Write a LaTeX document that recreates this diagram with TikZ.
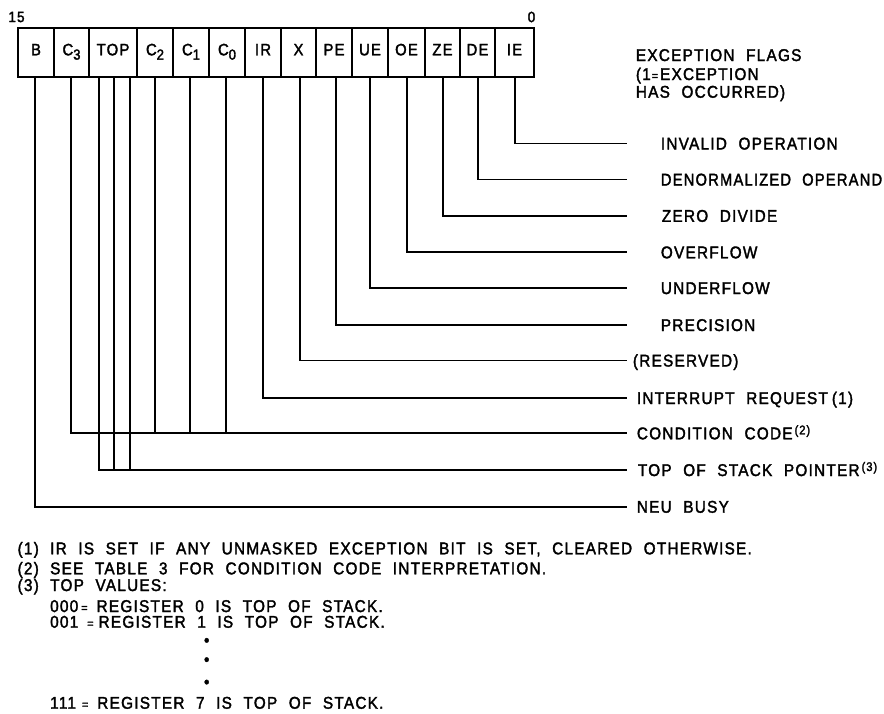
\documentclass[tikz,border=0pt]{standalone}
\usepackage{fontspec}
\setmainfont{Liberation Sans}[FakeStretch=0.9, LetterSpace=7.5, WordSpace=2.1, FakeBold=2]
\newcommand\subdig[1]{\raisebox{-4.3pt}{\fontsize{14.5}{14.5}\selectfont #1}}
\newcommand\supnote[1]{\hspace{2pt}\raisebox{5pt}{\fontsize{12.5}{12.5}\selectfont (#1)}}
\newcommand\smeq{{\fontsize{12}{12}\selectfont =}}
\begin{document}
\begin{tikzpicture}[x=1pt,y=-1pt,line width=1.8pt,
  cell/.style={draw,rectangle,inner sep=0pt,minimum height=49pt,text height=12pt,text depth=7pt,font=\fontsize{16.5}{19}\selectfont},
  lab/.style={anchor=west,inner sep=0pt,text height=12pt,text depth=0pt,font=\fontsize{17}{20}\selectfont},
  note/.style={anchor=west,inner sep=0pt,text height=12pt,text depth=0pt,font=\fontsize{17}{20}\selectfont},
  bitno/.style={inner sep=0pt,font=\fontsize{15}{17}\selectfont},
  wire/.style={line width=1.8pt}]
\useasboundingbox (0,0) rectangle (884,713);
% register cells
\node[cell,minimum width=36pt] (cB)   at (36,52.8)    {B};
\node[cell,minimum width=35pt] (cC3)  at (71.5,52.8)  {C\subdig{3}};
\node[cell,minimum width=48pt] (cTOP) at (113,52.8)   {TOP};
\node[cell,minimum width=36pt] (cC2)  at (155,52.8)   {C\subdig{2}};
\node[cell,minimum width=36pt] (cC1)  at (191,52.8)   {C\subdig{1}};
\node[cell,minimum width=36pt] (cC0)  at (227,52.8)   {C\subdig{0}};
\node[cell,minimum width=36pt] (cIR)  at (263,52.8)   {IR};
\node[cell,minimum width=35pt] (cX)   at (298.5,52.8) {X};
\node[cell,minimum width=36pt] (cPE)  at (334,52.8)   {PE};
\node[cell,minimum width=36pt] (cUE)  at (370,52.8)   {UE};
\node[cell,minimum width=37pt] (cOE)  at (406.5,52.8) {OE};
\node[cell,minimum width=35pt] (cZE)  at (442.5,52.8) {ZE};
\node[cell,minimum width=35pt] (cDE)  at (477.5,52.8) {DE};
\node[cell,minimum width=39pt] (cIE)  at (514.5,52.8) {IE};
\node[bitno] (n15) at (16.5,17) {15};
\node[bitno] (n0)  at (531.5,17) {0};
% exception flag heading
\node[lab] (hd1) at (635,55) {EXCEPTION FLAGS};
\node[lab] (hd2) at (635,74) {(1\hspace{1pt}\smeq\hspace{2pt}EXCEPTION};
\node[lab] (hd3) at (635,91.7) {HAS OCCURRED)};
% wire ends
\coordinate (eIE)  at (627,143.5);
\coordinate (eDE)  at (627,179.5);
\coordinate (eZE)  at (627,215.8);
\coordinate (eOE)  at (627,252.3);
\coordinate (eUE)  at (627,288);
\coordinate (ePE)  at (627,325);
\coordinate (eX)   at (627,360.5);
\coordinate (eIR)  at (627,398);
\coordinate (eCC)  at (627,433.3);
\coordinate (eTOP) at (627,470);
\coordinate (eB)   at (627,506.7);
% labels
\node[lab] (lIE)  at (660,143.5) {INVALID OPERATION};
\node[lab] (lDE)  at (660,179.5) {\scalebox{0.96}[1]{DENORMALIZED OPERAND}};
\node[lab] (lZE)  at (661,215.8) {ZERO DIVIDE};
\node[lab] (lOE)  at (660,252.3) {OVERFLOW};
\node[lab] (lUE)  at (660,288)   {UNDERFLOW};
\node[lab] (lPE)  at (660,325)   {PRECISION};
\node[lab] (lX)   at (632,360.5) {(RESERVED)};
\node[lab] (lIR)  at (636,398)   {INTERRUPT REQUEST\hspace{4pt}(1)};
\node[lab] (lCC)  at (636,433.3) {CONDITION CODE\supnote{2}};
\node[lab] (lTOP) at (637,470)   {TOP OF STACK POINTER\supnote{3}};
\node[lab] (lB)   at (636,506.7) {NEU BUSY};
% wires
\draw[wire] ([xshift=0.5pt]cIE.south) |- (eIE);
\draw[wire] ([xshift=0.5pt]cDE.south) |- (eDE);
\draw[wire] ([xshift=0.5pt]cZE.south) |- (eZE);
\draw[wire] ([xshift=0.5pt]cOE.south) |- (eOE);
\draw[wire] (cUE.south) |- (eUE);
\draw[wire] ([xshift=2pt]cPE.south) |- (ePE);
\draw[wire] ([xshift=1.5pt]cX.south) |- (eX);
\draw[wire] (cIR.south) |- (eIR);
\draw[wire] ([xshift=-0.5pt]cC3.south) |- (eCC);
\draw[wire] (cC2.south) -- (cC2.south |- eCC);
\draw[wire] ([xshift=-1pt]cC1.south) -- ([xshift=-1pt]cC1.south |- eCC);
\draw[wire] ([xshift=-1pt]cC0.south) -- ([xshift=-1pt]cC0.south |- eCC);
\draw[wire] ([xshift=-14pt]cTOP.south) |- (eTOP);
\draw[wire] ([xshift=1pt]cTOP.south) -- ([xshift=1pt]cTOP.south |- eTOP);
\draw[wire] ([xshift=17pt]cTOP.south) -- ([xshift=17pt]cTOP.south |- eTOP);
\draw[wire] ([xshift=-1pt]cB.south) |- (eB);
% footnotes
\node[note] (f1) at (16.7,548.3) {\makebox[32.6pt][l]{(1)}IR IS SET IF ANY UNMASKED EXCEPTION BIT IS SET, CLEARED OTHERWISE.};
\node[note] (f2) at (16.7,568.3) {\makebox[32.6pt][l]{(2)}SEE TABLE 3 FOR CONDITION CODE INTERPRETATION.};
\node[note] (f3) at (16.7,585)   {\makebox[32.6pt][l]{(3)}TOP VALUES:};
\node[note] (f4) at (49.3,606)   {000\hspace{3pt}\smeq\hspace{9pt}REGISTER 0 IS TOP OF STACK.};
\node[note] (f5) at (49.3,621.7) {001\hspace{9pt}\smeq\hspace{5pt}REGISTER 1 IS TOP OF STACK.};
\node[note,anchor=center] (d1) at (206.7,640)   {•};
\node[note,anchor=center] (d2) at (206.7,659.3) {•};
\node[note,anchor=center] (d3) at (206.7,681.7) {•};
\node[note] (f6) at (49.3,702.7) {111\hspace{6pt}\smeq\hspace{9pt}REGISTER 7 IS TOP OF STACK.};
\end{tikzpicture}
\end{document}
